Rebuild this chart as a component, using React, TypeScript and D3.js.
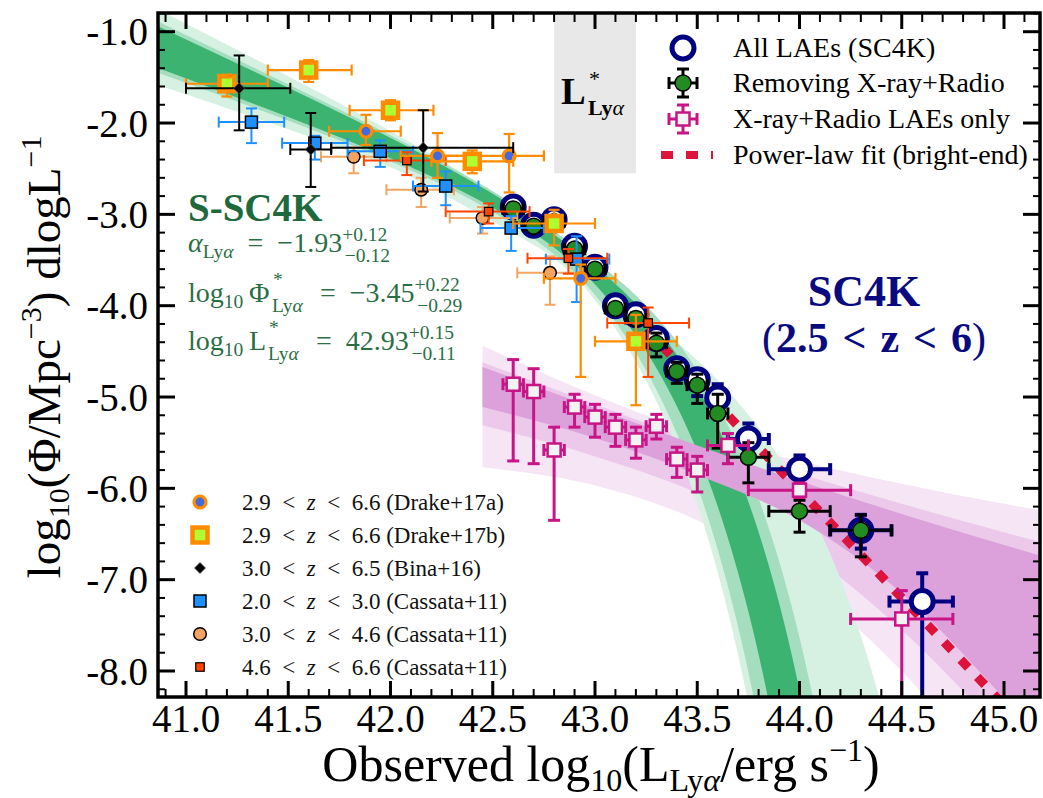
import React from "react";
import * as d3 from "d3";

// ---------------- axis ticks ----------------
const X_TICKS = [41.0, 41.5, 42.0, 42.5, 43.0, 43.5, 44.0, 44.5, 45.0];
const X_TICK_LABELS = ["41.0", "41.5", "42.0", "42.5", "43.0", "43.5", "44.0", "44.5", "45.0"];
const Y_TICKS = [-1, -2, -3, -4, -5, -6, -7, -8];
const Y_TICK_LABELS = ["-1.0", "-2.0", "-3.0", "-4.0", "-5.0", "-6.0", "-7.0", "-8.0"];

// ---------------- S-SC4K Schechter fit ----------------
const FIT_ALPHA = -1.93;
const FIT_LOGPHI = -3.45;
const FIT_LOGLSTAR = 42.93;
// confidence bands: parameter combinations [dAlpha, dLogL*, dLogPhi*] whose envelope is shaded
const BAND_LIGHT = [[-0.2, -0.18, 0], [0.2, -0.18, 0], [-0.2, 0, 0], [0.2, 0, 0], [-0.234, 0.613, -0.452]];
const BAND_MEDIUM = [[-0.135, -0.15, 0], [0.135, -0.15, 0], [-0.135, 0.14, 0], [0.135, 0.14, 0]];
const BAND_DARK = [[-0.11, -0.075, 0], [0.11, -0.075, 0], [-0.11, 0.08, 0], [0.11, 0.08, 0]];

// L* shaded region
const LSTAR_RANGE = [42.8, 43.2];
const LSTAR_FLOOR = -2.55;

// ---------------- X-ray+Radio fit bands ----------------
const PINK_X = [42.45, 43.0, 43.5, 44.0, 44.5, 45.0, 45.2];
const PINK_LIGHT_HI = [-4.44, -4.98, -5.4, -5.7, -5.95, -6.17, -6.25];
const PINK_LIGHT_LO = [-5.77, -5.97, -6.35, -7.0, -8.0, -9.3, -9.8];
const PINK_MED_HI = [-4.62, -5.08, -5.49, -5.84, -6.17, -6.48, -6.6];
const PINK_MED_LO = [-5.31, -5.65, -6.05, -6.65, -7.55, -8.7, -9.2];
const PINK_DARK_HI = [-4.67, -5.12, -5.53, -5.92, -6.28, -6.62, -6.75];
const PINK_DARK_LO = [-5.11, -5.45, -5.85, -6.35, -7.15, -8.3, -8.8];

// ---------------- power-law fit (bright end) ----------------
const PL_X = [43.25, 45.05];
const PL_Y = [-4.26, -8.49];

// ---------------- SC4K all LAEs ----------------
const SC4K_X = [42.6, 42.7, 42.8, 42.9, 43.0, 43.1, 43.2, 43.3, 43.4, 43.5, 43.6, 43.75, 44.0, 44.3, 44.6];
const SC4K_Y = [-2.92, -3.12, -3.06, -3.35, -3.58, -4.0, -4.1, -4.36, -4.69, -4.81, -5.01, -5.46, -5.79, -6.46, -7.24];
const SC4K_XLO = [42.55, 42.65, 42.75, 42.85, 42.95, 43.05, 43.15, 43.25, 43.35, 43.45, 43.55, 43.65, 43.85, 44.15, 44.44];
const SC4K_XHI = [42.65, 42.75, 42.85, 42.95, 43.05, 43.15, 43.25, 43.35, 43.45, 43.55, 43.65, 43.85, 44.15, 44.45, 44.75];
const SC4K_YLO = [-2.95, -3.15, -3.09, -3.39, -3.62, -4.04, -4.15, -4.42, -4.77, -4.99, -5.22, -5.7, -5.98, -6.66, -8.6];
const SC4K_YHI = [-2.89, -3.09, -3.03, -3.31, -3.54, -3.95, -4.05, -4.3, -4.61, -4.7, -4.86, -5.29, -5.64, -6.29, -6.93];

// ---------------- SC4K removing X-ray + radio ----------------
const NOAGN_X = [42.6, 42.7, 42.8, 42.9, 43.0, 43.1, 43.2, 43.3, 43.4, 43.5, 43.6, 43.75, 44.0, 44.3];
const NOAGN_Y = [-2.94, -3.13, -3.08, -3.38, -3.6, -4.03, -4.14, -4.41, -4.72, -4.87, -5.18, -5.66, -6.25, -6.46];
const NOAGN_XLO = [42.55, 42.65, 42.75, 42.85, 42.95, 43.05, 43.15, 43.25, 43.35, 43.45, 43.55, 43.65, 43.85, 44.15];
const NOAGN_XHI = [42.65, 42.75, 42.85, 42.95, 43.05, 43.15, 43.25, 43.35, 43.45, 43.55, 43.65, 43.85, 44.15, 44.45];
const NOAGN_YLO = [-2.98, -3.17, -3.12, -3.43, -3.65, -4.08, -4.2, -4.56, -4.85, -5.07, -5.56, -5.94, -6.48, -6.75];
const NOAGN_YHI = [-2.9, -3.09, -3.04, -3.33, -3.55, -3.98, -4.08, -4.3, -4.62, -4.75, -4.97, -5.5, -6.13, -6.29];

// ---------------- X-ray + radio LAEs only ----------------
const AGN_X = [42.6, 42.7, 42.8, 42.9, 43.0, 43.1, 43.2, 43.3, 43.4, 43.5, 43.65, 44.0, 44.5];
const AGN_Y = [-4.86, -4.94, -5.58, -5.11, -5.22, -5.33, -5.47, -5.32, -5.68, -5.8, -5.53, -6.02, -7.43];
const AGN_XLO = [42.55, 42.65, 42.75, 42.85, 42.95, 43.05, 43.15, 43.25, 43.35, 43.45, 43.55, 43.75, 44.25];
const AGN_XHI = [42.65, 42.75, 42.85, 42.95, 43.05, 43.15, 43.25, 43.35, 43.45, 43.55, 43.75, 44.25, 44.75];
const AGN_YLO = [-5.7, -5.73, -6.35, -5.33, -5.44, -5.54, -5.67, -5.46, -5.88, -6.04, -5.73, -6.1, -8.6];
const AGN_YHI = [-4.59, -4.69, -5.33, -4.97, -5.08, -5.19, -5.33, -5.19, -5.55, -5.65, -5.4, -5.94, -7.12];

// ---------------- literature ----------------
const D17A_X = [41.88, 42.23, 42.58, 42.93];
const D17A_Y = [-2.09, -2.36, -2.36, -3.7];
const D17A_XLO = [41.7, 42.05, 42.23, 42.75];
const D17A_XHI = [42.05, 42.4, 42.75, 43.1];
const D17A_YLO = [-2.24, -2.6, -2.76, -4.78];
const D17A_YHI = [-1.91, -2.11, -2.12, -3.55];

const D17B_X = [41.2, 41.6, 42.0, 42.4, 42.8, 43.2];
const D17B_Y = [-1.57, -1.42, -1.86, -2.42, -3.1, -4.39];
const D17B_XLO = [41.0, 41.4, 41.8, 42.2, 42.6, 43.0];
const D17B_XHI = [41.4, 41.81, 42.21, 42.6, 43.0, 43.4];
const D17B_YLO = [-1.71, -1.55, -1.97, -2.55, -3.34, -5.09];
const D17B_YHI = [-1.47, -1.31, -1.75, -2.3, -2.95, -4.1];

const BINA_X = [41.26, 41.61, 42.16];
const BINA_Y = [-1.62, -2.29, -2.27];
const BINA_XLO = [41.0, 41.51, 41.71];
const BINA_XHI = [41.51, 41.71, 42.6];
const BINA_YLO = [-2.08, -2.7, -2.75];
const BINA_YHI = [-1.26, -1.89, -1.86];

const C11A_X = [41.32, 41.63, 41.95, 42.27, 42.59, 42.91];
const C11A_Y = [-1.99, -2.22, -2.31, -2.69, -3.15, -3.49];
const C11A_XLO = [41.16, 41.47, 41.79, 42.11, 42.44, 42.76];
const C11A_XHI = [41.48, 41.79, 42.11, 42.43, 42.75, 43.07];
const C11A_YLO = [-2.22, -2.4, -2.48, -2.9, -3.4, -3.96];
const C11A_YHI = [-1.84, -2.14, -2.19, -2.53, -3.02, -3.24];

const C11B_X = [41.82, 42.15, 42.45, 42.78];
const C11B_Y = [-2.37, -2.73, -3.04, -3.64];
const C11B_XLO = [41.66, 41.98, 42.29, 42.62];
const C11B_XHI = [41.98, 42.31, 42.62, 42.94];
const C11B_YLO = [-2.55, -2.92, -3.21, -3.99];
const C11B_YHI = [-2.27, -2.6, -2.92, -3.46];

const C11C_X = [42.08, 42.48, 42.87, 43.26];
const C11C_Y = [-2.41, -2.97, -3.48, -4.19];
const C11C_XLO = [41.87, 42.27, 42.67, 43.06];
const C11C_XHI = [42.27, 42.68, 43.06, 43.46];
const C11C_YLO = [-2.57, -3.1, -3.65, -4.78];
const C11C_YHI = [-2.32, -2.88, -3.38, -4.02];

const LEGEND_MAIN = ["All LAEs (SC4K)", "Removing X-ray+Radio", "X-ray+Radio LAEs only", "Power-law fit (bright-end)"];
const LEGEND_LIT_Z = [["2.9", "6.6"], ["2.9", "6.6"], ["3.0", "6.5"], ["2.0", "3.0"], ["3.0", "4.6"], ["4.6", "6.6"]];
const LEGEND_LIT_REF = ["(Drake+17a)", "(Drake+17b)", "(Bina+16)", "(Cassata+11)", "(Cassata+11)", "(Cassata+11)"];

// ---------------- layout / style ----------------
const W = 1043;
const H = 798;
const PL = 158, PR = 1040, PT = 13, PB = 697;
const FONT = "'Liberation Serif', 'DejaVu Serif', serif";
const NAVY = "#000080";
const MAGENTA = "#C71585";
const GREEN_TXT = "#2B6E46";
const BAND_GREEN = ["#D6F1E2", "#A4DEBF", "#3DB372"];
const BAND_PINK = ["#F6E5F5", "#ECC9EB", "#DCA0DB"];
const REL = "\u2002<\u2002";
const REL_BIG = "\u2004<\u2004";

type EB = { xs: number[]; ys: number[]; xlo: number[]; xhi: number[]; ylo: number[]; yhi: number[] };

export default function App() {
  const x = d3.scaleLinear().domain([41, 45]).range([186, 1004]);
  const y = d3.scaleLinear().domain([-1, -8]).range([31.7, 671]);

  // Schechter function in log space (per dlogL)
  const sch = (lx: number, c: number[]) =>
    FIT_LOGPHI + c[2] + Math.log10(Math.LN10) + (FIT_ALPHA + c[0] + 1) * (lx - FIT_LOGLSTAR) -
    Math.pow(10, lx - FIT_LOGLSTAR - c[1]) / Math.LN10;

  const grid = d3.range(40.8, 45.25, 0.004);
  const greenPaths = [BAND_LIGHT, BAND_MEDIUM, BAND_DARK].map((combos) => {
    const up = grid.map((g) => Math.max(-12, d3.max(combos, (c) => sch(g, c)) as number));
    const lo = grid.map((g) => Math.max(-12, d3.min(combos, (c) => sch(g, c)) as number));
    return d3
      .area<number>()
      .x((d) => x(d))
      .y0((d, i) => y(lo[i]))
      .y1((d, i) => y(up[i]))(grid) as string;
  });

  const pinkBand = (hi: number[], lo: number[]) =>
    d3
      .area<number>()
      .x((d) => x(d))
      .y0((d, i) => y(lo[i]))
      .y1((d, i) => y(hi[i]))
      .curve(d3.curveMonotoneX)(PINK_X) as string;
  const pinkPaths = [
    pinkBand(PINK_LIGHT_HI, PINK_LIGHT_LO),
    pinkBand(PINK_MED_HI, PINK_MED_LO),
    pinkBand(PINK_DARK_HI, PINK_DARK_LO),
  ];

  const errorBars = (d: EB, color: string, sw: number, cap: number, key: string) => (
    <g key={key} stroke={color} strokeWidth={sw} fill="none">
      {d.xs.map((xv, i) => {
        const cx = x(xv), cy = y(d.ys[i]);
        const x0 = x(d.xlo[i]), x1 = x(d.xhi[i]), y0 = y(d.ylo[i]), y1 = y(d.yhi[i]);
        return (
          <g key={i}>
            <line x1={x0} x2={x1} y1={cy} y2={cy} />
            <line x1={cx} x2={cx} y1={y0} y2={y1} />
            <line x1={x0} x2={x0} y1={cy - cap / 2} y2={cy + cap / 2} />
            <line x1={x1} x2={x1} y1={cy - cap / 2} y2={cy + cap / 2} />
            <line x1={cx - cap / 2} x2={cx + cap / 2} y1={y0} y2={y0} />
            <line x1={cx - cap / 2} x2={cx + cap / 2} y1={y1} y2={y1} />
          </g>
        );
      })}
    </g>
  );

  const D17A: EB = { xs: D17A_X, ys: D17A_Y, xlo: D17A_XLO, xhi: D17A_XHI, ylo: D17A_YLO, yhi: D17A_YHI };
  const D17B: EB = { xs: D17B_X, ys: D17B_Y, xlo: D17B_XLO, xhi: D17B_XHI, ylo: D17B_YLO, yhi: D17B_YHI };
  const BINA: EB = { xs: BINA_X, ys: BINA_Y, xlo: BINA_XLO, xhi: BINA_XHI, ylo: BINA_YLO, yhi: BINA_YHI };
  const C11A: EB = { xs: C11A_X, ys: C11A_Y, xlo: C11A_XLO, xhi: C11A_XHI, ylo: C11A_YLO, yhi: C11A_YHI };
  const C11B: EB = { xs: C11B_X, ys: C11B_Y, xlo: C11B_XLO, xhi: C11B_XHI, ylo: C11B_YLO, yhi: C11B_YHI };
  const C11C: EB = { xs: C11C_X, ys: C11C_Y, xlo: C11C_XLO, xhi: C11C_XHI, ylo: C11C_YLO, yhi: C11C_YHI };
  const SC4K: EB = { xs: SC4K_X, ys: SC4K_Y, xlo: SC4K_XLO, xhi: SC4K_XHI, ylo: SC4K_YLO, yhi: SC4K_YHI };
  const NOAGN: EB = { xs: NOAGN_X, ys: NOAGN_Y, xlo: NOAGN_XLO, xhi: NOAGN_XHI, ylo: NOAGN_YLO, yhi: NOAGN_YHI };
  const AGN: EB = { xs: AGN_X, ys: AGN_Y, xlo: AGN_XLO, xhi: AGN_XHI, ylo: AGN_YLO, yhi: AGN_YHI };

  const sq = (cx: number, cy: number, s: number, fill: string, stroke: string, sw: number, k: any) => (
    <rect key={k} x={cx - s / 2} y={cy - s / 2} width={s} height={s} fill={fill} stroke={stroke} strokeWidth={sw} />
  );
  const diamond = (cx: number, cy: number, r: number, k: any) => (
    <path key={k} d={`M${cx},${cy - r}L${cx + r},${cy}L${cx},${cy + r}L${cx - r},${cy}Z`} fill="#000" stroke="#555" strokeWidth={0.8} />
  );

  const xMinor = d3.range(40.9, 45.15, 0.1).filter((v) => X_TICKS.every((t) => Math.abs(t - v) > 0.01));
  const yMinor = d3.range(-0.8, -8.25, -0.2).filter((v) => Y_TICKS.every((t) => Math.abs(t - v) > 0.01));

  const litRows = [502, 535, 568, 601, 634, 667];
  const legRows = [48, 83, 119, 155];

  const litMarker = (i: number, cx: number, cy: number) => {
    switch (i) {
      case 0:
        return <circle cx={cx} cy={cy} r={6} fill="#4169E1" stroke="#FF8C00" strokeWidth={3.2} />;
      case 1:
        return sq(cx, cy, 15, "#ADFF2F", "#FF8C00", 4.5, "l1");
      case 2:
        return diamond(cx, cy, 5.5, "l2");
      case 3:
        return sq(cx, cy, 12, "#1E90FF", "#000", 1.5, "l3");
      case 4:
        return <circle cx={cx} cy={cy} r={6.3} fill="#F4A460" stroke="#000" strokeWidth={1.5} />;
      default:
        return sq(cx, cy, 8.5, "#FF4500", "#000", 1.2, "l5");
    }
  };

  const supW = 42.5; // width of "+0.12" at 19.5px, used to stack sup / sub

  return (
    <div style={{ position: "absolute", left: 0, top: 0 }}>
      <svg width={W} height={H} style={{ display: "block", fontFamily: FONT }}>
        <defs>
          <clipPath id="plotclip">
            <rect x={PL} y={PT} width={PR - PL} height={PB - PT} />
          </clipPath>
        </defs>
        <rect x={0} y={0} width={W} height={H} fill="#fff" />

        <g clipPath="url(#plotclip)">
          <path d={pinkPaths[0]} fill={BAND_PINK[0]} />
          <path d={pinkPaths[1]} fill={BAND_PINK[1]} />
          {greenPaths.map((p, i) => (
            <path key={"g" + i} d={p} fill={BAND_GREEN[i]} />
          ))}
          <path d={pinkPaths[2]} fill={BAND_PINK[2]} />
          <rect
            x={x(LSTAR_RANGE[0])}
            y={PT}
            width={x(LSTAR_RANGE[1]) - x(LSTAR_RANGE[0])}
            height={y(LSTAR_FLOOR) - PT}
            fill="#E8E8E8"
          />

          {/* power law */}
          <line
            x1={x(PL_X[0])}
            y1={y(PL_Y[0])}
            x2={x(PL_X[1])}
            y2={y(PL_Y[1])}
            stroke="#DC143C"
            strokeWidth={9}
            strokeDasharray="11 13"
          />

          {/* SC4K */}
          {errorBars(SC4K, NAVY, 4, 12, "sc4k")}
          {SC4K_X.map((v, i) => (
            <circle key={"s" + i} cx={x(v)} cy={y(SC4K_Y[i])} r={11} fill="#fff" stroke={NAVY} strokeWidth={5} />
          ))}
          {errorBars(NOAGN, "#000", 3, 12, "noagn")}
          {NOAGN_X.map((v, i) => (
            <circle key={"n" + i} cx={x(v)} cy={y(NOAGN_Y[i])} r={8} fill="#228B22" stroke="#000" strokeWidth={1.5} />
          ))}
          {errorBars(AGN, MAGENTA, 3, 12, "agn")}
          {AGN_X.map((v, i) => sq(x(v), y(AGN_Y[i]), 13, "#F3F3F3", MAGENTA, 2.5, "a" + i))}

          {/* literature */}
          {errorBars(C11B, "#F4A460", 2, 11, "c11b")}
          {C11B_X.map((v, i) => (
            <circle key={"c11b" + i} cx={x(v)} cy={y(C11B_Y[i])} r={6.3} fill="#F4A460" stroke="#000" strokeWidth={1.5} />
          ))}
          {errorBars(C11A, "#1E90FF", 2, 11, "c11a")}
          {C11A_X.map((v, i) => sq(x(v), y(C11A_Y[i]), 12, "#1E90FF", "#000", 1.5, "c11a" + i))}
          {errorBars(C11C, "#FF4500", 2, 11, "c11c")}
          {C11C_X.map((v, i) => sq(x(v), y(C11C_Y[i]), 8.5, "#FF4500", "#000", 1.2, "c11c" + i))}
          {errorBars(D17A, "#FF8C00", 2.2, 11, "d17a")}
          {D17A_X.map((v, i) => (
            <circle key={"d17a" + i} cx={x(v)} cy={y(D17A_Y[i])} r={6} fill="#4169E1" stroke="#FF8C00" strokeWidth={3.2} />
          ))}
          {errorBars(D17B, "#FF8C00", 2.2, 11, "d17b")}
          {D17B_X.map((v, i) => sq(x(v), y(D17B_Y[i]), 15, "#ADFF2F", "#FF8C00", 4.5, "d17b" + i))}
          {errorBars(BINA, "#000", 2, 11, "bina")}
          {BINA_X.map((v, i) => diamond(x(v), y(BINA_Y[i]), 5.5, "bina" + i))}
        </g>

        {/* frame and ticks */}
        <g stroke="#000" fill="none">
          {X_TICKS.map((t, i) => (
            <g key={"xt" + i} strokeWidth={3}>
              <line x1={x(t)} x2={x(t)} y1={PB} y2={PB - 16} />
              <line x1={x(t)} x2={x(t)} y1={PT} y2={PT + 16} />
            </g>
          ))}
          {xMinor.map((t, i) => (
            <g key={"xm" + i} strokeWidth={2}>
              <line x1={x(t)} x2={x(t)} y1={PB} y2={PB - 8} />
              <line x1={x(t)} x2={x(t)} y1={PT} y2={PT + 9} />
            </g>
          ))}
          {Y_TICKS.map((t, i) => (
            <g key={"yt" + i} strokeWidth={3}>
              <line x1={PL} x2={PL + 17} y1={y(t)} y2={y(t)} />
              <line x1={PR} x2={PR - 17} y1={y(t)} y2={y(t)} />
            </g>
          ))}
          {yMinor.map((t, i) => (
            <g key={"ym" + i} strokeWidth={2}>
              <line x1={PL} x2={PL + 7} y1={y(t)} y2={y(t)} />
              <line x1={PR} x2={PR - 7} y1={y(t)} y2={y(t)} />
            </g>
          ))}
          <rect x={PL} y={PT} width={PR - PL} height={PB - PT} strokeWidth={3.5} />
        </g>

        {/* tick labels */}
        {X_TICKS.map((t, i) => (
          <text key={"xl" + i} x={x(t)} y={732} fontSize={39} textAnchor="middle" fill="#000">
            {X_TICK_LABELS[i]}
          </text>
        ))}
        {Y_TICKS.map((t, i) => (
          <text key={"yl" + i} x={148} y={y(t) + 13.5} fontSize={39} textAnchor="end" fill="#000">
            {Y_TICK_LABELS[i]}
          </text>
        ))}

        {/* axis titles */}
        <text x={601} y={781} fontSize={50} textAnchor="middle" fill="#000">
          Observed log
          <tspan fontSize={32} dy={10}>10</tspan>
          <tspan dy={-10}>(L</tspan>
          <tspan fontSize={32} dy={10}>
            Ly<tspan fontStyle="italic">α</tspan>
          </tspan>
          <tspan dy={-10}>/erg s</tspan>
          <tspan fontSize={32} dy={-20}>−1</tspan>
          <tspan dy={20}>)</tspan>
        </text>
        <text transform="translate(60,357) rotate(-90)" fontSize={47} textAnchor="middle" fill="#000">
          log
          <tspan fontSize={30} dy={9}>10</tspan>
          <tspan dy={-9}>(Φ/Mpc</tspan>
          <tspan fontSize={30} dy={-19}>−3</tspan>
          <tspan dy={19}>) dlogL</tspan>
          <tspan fontSize={30} dy={-19}>−1</tspan>
        </text>

        {/* L* label */}
        <text x={561} y={104} fontSize={37} fontWeight="bold" fill="#000">
          L
        </text>
        <text x={589} y={86} fontSize={22} fill="#000">
          *
        </text>
        <text x={588} y={115} fontSize={22} fontWeight="bold" fill="#000">
          Ly<tspan fontStyle="italic" fontWeight="normal">α</tspan>
        </text>

        {/* S-SC4K text */}
        <text x={188} y={221} fontSize={39} fontWeight="bold" fill="#1F6A3C">
          S-SC4K
        </text>
        <g fill={GREEN_TXT} fontSize={28}>
          <text x={188} y={252}>
            <tspan fontStyle="italic">α</tspan>
            <tspan fontSize={19.5} dy={6}>
              Ly<tspan fontStyle="italic">α</tspan>
            </tspan>
            <tspan dy={-6}>{"\u2002=\u2002−1.93"}</tspan>
            <tspan fontSize={19.5} dy={-11}>+0.12</tspan>
            <tspan fontSize={19.5} dx={-supW} dy={21}>−0.12</tspan>
          </text>

          <text x={188} y={302}>
            log<tspan fontSize={19.5} dy={6}>10</tspan>
            <tspan dy={-6}>{"\u2009Φ"}</tspan>
          </text>
          <text x={273} y={286} fontSize={19.5}>*</text>
          <text x={272} y={312} fontSize={19.5}>
            Ly<tspan fontStyle="italic">α</tspan>
          </text>
          <text x={306} y={302}>
            {"\u2002=\u2002−3.45"}
            <tspan fontSize={19.5} dy={-11}>+0.22</tspan>
            <tspan fontSize={19.5} dx={-supW} dy={21}>−0.29</tspan>
          </text>

          <text x={188} y={350}>
            log<tspan fontSize={19.5} dy={6}>10</tspan>
            <tspan dy={-6}>{"\u2009L"}</tspan>
          </text>
          <text x={269} y={334} fontSize={19.5}>*</text>
          <text x={268} y={360} fontSize={19.5}>
            Ly<tspan fontStyle="italic">α</tspan>
          </text>
          <text x={302} y={350}>
            {"\u2002=\u200242.93"}
            <tspan fontSize={19.5} dy={-11}>+0.15</tspan>
            <tspan fontSize={19.5} dx={-supW} dy={21}>−0.11</tspan>
          </text>
        </g>

        {/* SC4K text */}
        <text x={864} y={306} fontSize={44} fontWeight="bold" textAnchor="middle" fill="#0A0A80">
          SC4K
        </text>
        <text x={874} y={352} fontSize={42} fontWeight="bold" textAnchor="middle" fill="#0A0A80">
          <tspan fontWeight="normal">(</tspan>
          {"2.5" + REL_BIG + "z" + REL_BIG + "6"}
          <tspan fontWeight="normal">)</tspan>
        </text>

        {/* main legend */}
        <g>
          <circle cx={683} cy={legRows[0]} r={11} fill="#fff" stroke={NAVY} strokeWidth={5} />
          <g stroke="#000" strokeWidth={3}>
            <line x1={669} x2={697} y1={legRows[1]} y2={legRows[1]} />
            <line x1={683} x2={683} y1={legRows[1] - 14} y2={legRows[1] + 14} />
            <line x1={669} x2={669} y1={legRows[1] - 6} y2={legRows[1] + 6} />
            <line x1={697} x2={697} y1={legRows[1] - 6} y2={legRows[1] + 6} />
            <line x1={677} x2={689} y1={legRows[1] - 14} y2={legRows[1] - 14} />
            <line x1={677} x2={689} y1={legRows[1] + 14} y2={legRows[1] + 14} />
          </g>
          <circle cx={683} cy={legRows[1]} r={8} fill="#228B22" stroke="#000" strokeWidth={1.5} />
          <g stroke={MAGENTA} strokeWidth={3}>
            <line x1={669} x2={697} y1={legRows[2]} y2={legRows[2]} />
            <line x1={683} x2={683} y1={legRows[2] - 14} y2={legRows[2] + 14} />
            <line x1={669} x2={669} y1={legRows[2] - 6} y2={legRows[2] + 6} />
            <line x1={697} x2={697} y1={legRows[2] - 6} y2={legRows[2] + 6} />
            <line x1={677} x2={689} y1={legRows[2] - 14} y2={legRows[2] - 14} />
            <line x1={677} x2={689} y1={legRows[2] + 14} y2={legRows[2] + 14} />
          </g>
          {sq(683, legRows[2], 13, "#F3F3F3", MAGENTA, 2.5, "lg2")}
          <line x1={661} x2={713} y1={legRows[3]} y2={legRows[3]} stroke="#DC143C" strokeWidth={8} strokeDasharray="12 13" />
          {LEGEND_MAIN.map((t, i) => (
            <text key={"lm" + i} x={733} y={legRows[i] + 9} fontSize={28} fill="#000">
              {t}
            </text>
          ))}
        </g>

        {/* literature legend */}
        <g>
          {litRows.map((ry, i) => (
            <g key={"lit" + i}>
              {litMarker(i, 200, ry)}
              <text x={242} y={ry + 7.5} fontSize={23} fill="#111">
                {LEGEND_LIT_Z[i][0] + REL}
                <tspan fontStyle="italic">z</tspan>
                {REL + LEGEND_LIT_Z[i][1] + " " + LEGEND_LIT_REF[i]}
              </text>
            </g>
          ))}
        </g>
      </svg>
    </div>
  );
}
